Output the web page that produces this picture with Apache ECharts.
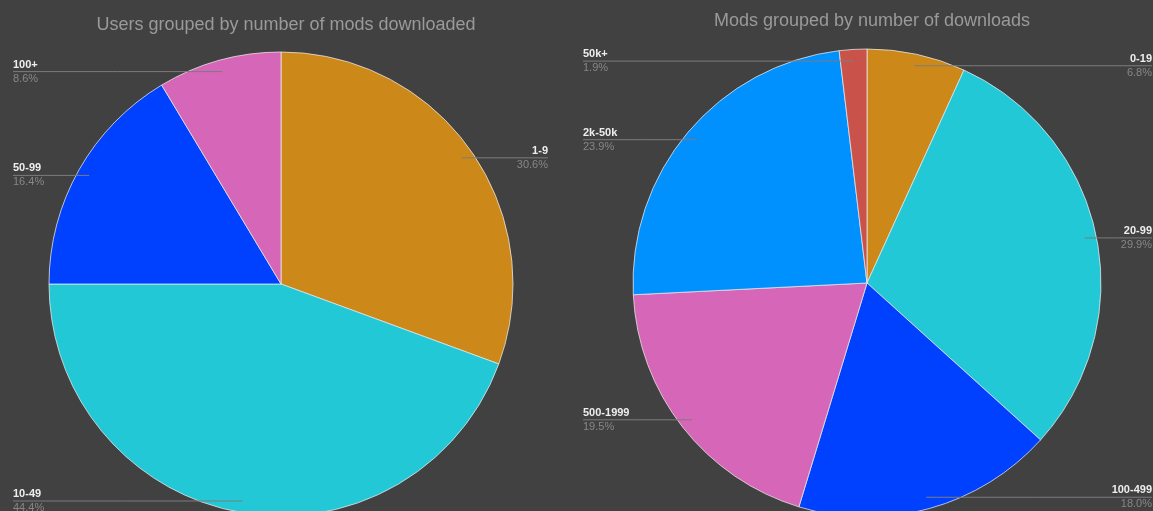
<!DOCTYPE html>
<html>
<head>
<meta charset="utf-8">
<script src="https://cdn.jsdelivr.net/npm/echarts@6/dist/echarts.min.js"></script>
<style>
html,body{margin:0;padding:0;background:#414141;}
#c{width:1153px;height:511px;}
</style>
</head>
<body>
<div id="c"></div>
<script>
const usersCategories = ['1-9', '10-49', '50-99', '100+'];
const usersValues = [30.6, 44.4, 16.4, 8.6];
const modsCategories = ['0-19', '20-99', '100-499', '500-1999', '2k-50k', '50k+'];
const modsValues = [6.8, 29.9, 18.0, 19.5, 23.9, 1.9];
const titles = ['Users grouped by number of mods downloaded', 'Mods grouped by number of downloads'];

const usersColors = ['#CC8819', '#22C8D6', '#0040FF', '#D666B8'];
const modsColors = ['#CC8819', '#22C8D6', '#0040FF', '#D666B8', '#0091FF', '#C9534B'];

const CENTERS = [[281, 284], [867, 283]];
const RADII = [232, 234];
const EDGES = [[13, 548], [583, 1152]];

function mk(cats, vals) { return cats.map((n, i) => ({ name: n, value: vals[i] })); }

const chart = echarts.init(document.getElementById('c'));
const FONT = 'Arial, Liberation Sans, sans-serif';
const labelCfg = {
  show: true,
  position: 'outside',
  formatter: p => '{n|' + p.name + '}\n{p|' + p.percent.toFixed(1) + '%}',
  rich: {
    n: { color: '#eeeeee', fontWeight: 'bold', fontSize: 11, fontFamily: FONT, lineHeight: 14 },
    p: { color: '#878787', fontSize: 11, fontFamily: FONT, lineHeight: 14 }
  }
};
function layoutFn(params) {
  const s = params.seriesIndex >= 2 ? params.seriesIndex - 2 : params.seriesIndex;
  const c = CENTERS[s];
  const p = params.labelLinePoints[0];
  const ax = c[0] + (p[0] - c[0]) * 0.95;
  const ay = c[1] + (p[1] - c[1]) * 0.95;
  const right = ax > c[0];
  const ex = right ? EDGES[s][1] : EDGES[s][0];
  return {
    x: ex, y: ay, align: right ? 'right' : 'left', verticalAlign: 'middle',
    labelLinePoints: [[ax, ay], [(ax + ex) / 2, ay], [ex, ay]]
  };
}
const base = {
  type: 'pie',
  startAngle: 90,
  clockwise: true,
  avoidLabelOverlap: false,
  silent: true,
  animation: false
};
const pieSeries = (i, colors, data) => Object.assign({}, base, {
  z: 2, center: CENTERS[i], radius: RADII[i], color: colors, data: data,
  itemStyle: { borderColor: 'rgba(235,235,235,0.75)', borderWidth: 1 },
  label: { show: false }, labelLine: { show: false }
});
const labelSeries = (i, data) => Object.assign({}, base, {
  z: 3, center: CENTERS[i], radius: RADII[i], data: data,
  itemStyle: { color: 'rgba(0,0,0,0)', borderWidth: 0 },
  label: labelCfg,
  labelLine: { show: true, length: 5, length2: 5, lineStyle: { color: '#7c7c7c', width: 1 } },
  labelLayout: layoutFn
});
chart.setOption({
  backgroundColor: '#414141',
  title: [
    { text: titles[0], left: 281, top: 11, textAlign: 'center', textStyle: { color: '#9a9a9a', fontSize: 18, fontWeight: 'normal', fontFamily: FONT } },
    { text: titles[1], left: 867, top: 7, textAlign: 'center', textStyle: { color: '#9a9a9a', fontSize: 18, fontWeight: 'normal', fontFamily: FONT } }
  ],
  series: [
    pieSeries(0, usersColors, mk(usersCategories, usersValues)),
    pieSeries(1, modsColors, mk(modsCategories, modsValues)),
    labelSeries(0, mk(usersCategories, usersValues)),
    labelSeries(1, mk(modsCategories, modsValues))
  ]
});
</script>
</body>
</html>
